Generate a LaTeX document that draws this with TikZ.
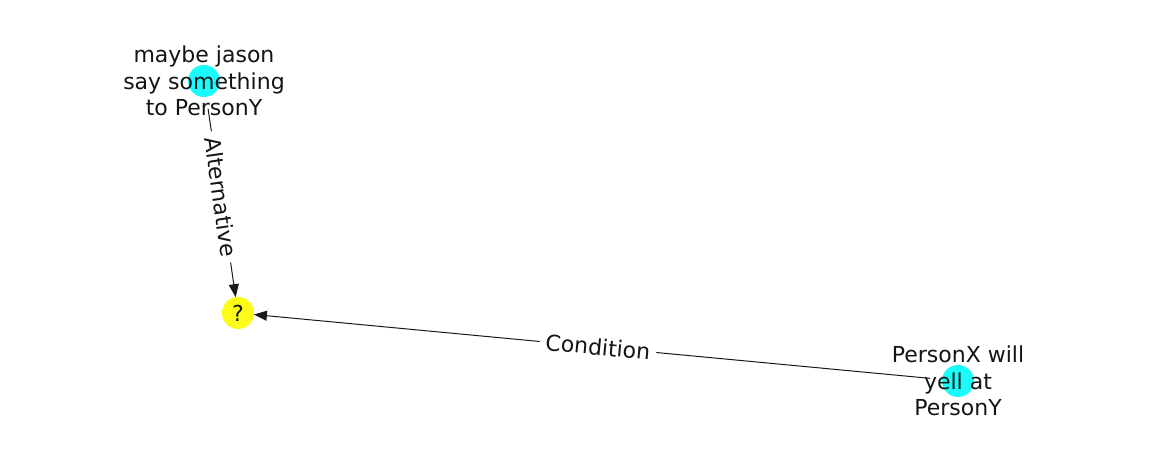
\documentclass[tikz,border=0pt]{standalone}
\usepackage{fontspec}
\setmainfont{DejaVu Sans}
\usetikzlibrary{arrows.meta}
\definecolor{nodecyan}{RGB}{24,252,252}
\definecolor{nodeyellow}{RGB}{252,252,24}
\definecolor{txt}{RGB}{20,20,20}
\tikzset{
  dot/.style={circle, inner sep=0pt, minimum size=32pt, outer sep=0pt},
  ntext/.style={align=center, font=\fontsize{22}{26.4}\selectfont, text=txt, inner sep=0pt},
  elabel/.style={font=\fontsize{22}{26.4}\selectfont, text=txt, fill=white, inner sep=6pt, sloped, midway},
  edge/.style={draw=black!90, line width=1pt, -{Triangle[length=13pt,width=10pt]}}
}
\begin{document}
\begin{tikzpicture}[x=1pt,y=-1pt]
\useasboundingbox (0,0) rectangle (1162,462);
\node[dot, fill=nodecyan] (a) at (204,81) {};
\node[dot, fill=nodeyellow] (q) at (238,313) {};
\node[dot, fill=nodecyan] (x) at (958,381) {};
\draw[edge, shorten <=12pt] (a) -- (q);
\draw[edge, shorten <=12pt] (x) -- (q);
\path (a.center) -- (q.center) node[elabel] (la) {Alternative};
\path (x.center) -- (q.center) node[elabel] (lc) {Condition};
\node[ntext] (ta) at (a.center) {maybe jason\\say something\\to PersonY};
\node[ntext] (tq) at (q.center) {?};
\node[ntext] (tx) at (x.center) {PersonX will\\yell at\\PersonY};
\end{tikzpicture}
\end{document}
